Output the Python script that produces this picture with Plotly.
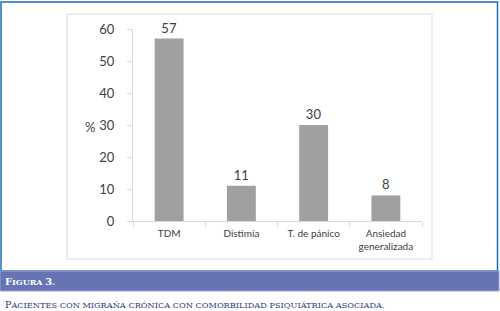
import plotly.graph_objects as go

categories = ["TDM", "Distimia", "T. de pánico", "Ansiedad<br>generalizada"]
values = [57, 11, 30, 8]
y_ticks = [0, 10, 20, 30, 40, 50, 60]
caption_title = "Figura 3."
caption_text = "Pacientes con migraña crónica con comorbilidad psiquiátrica asociada."

W, H = 500, 311
L, R, T, B = 133, 422, 29, 221  # plot area in pixels

def px(x):
    return (x - L) / (R - L)

def py(y):
    return (B - y) / (B - T)

def small_caps(s, big, small):
    out = []
    for ch in s:
        if ch.isupper() or ch.isdigit():
            out.append(f'<span style="font-size:{big}px">{ch}</span>')
        else:
            out.append(f'<span style="font-size:{small}px">{ch.upper()}</span>')
    return "".join(out)

fig = go.Figure()
fig.add_trace(go.Bar(
    x=categories, y=values,
    marker=dict(color="#a0a0a0", line=dict(width=0)),
    text=[str(v) for v in values], textposition="outside",
    textfont=dict(family="Lato", size=13, color="#404040"),
    cliponaxis=False, width=0.4,
))

fig.update_layout(
    width=W, height=H,
    margin=dict(l=L, r=W - R, t=T, b=H - B, pad=0),
    paper_bgcolor="white", plot_bgcolor="white",
    showlegend=False,
    xaxis=dict(
        showline=True, linecolor="#d9d9d9", linewidth=1,
        ticks="outside", tickson="boundaries", ticklen=5, tickcolor="#d9d9d9",
        tickfont=dict(family="Lato", size=10, color="#404040"),
        showgrid=False, fixedrange=True, ticklabelstandoff=3,
    ),
    yaxis=dict(
        range=[0, 60], tickvals=y_ticks,
        showline=True, linecolor="#d9d9d9", linewidth=1,
        ticks="outside", ticklen=5, tickcolor="#d9d9d9",
        tickfont=dict(family="Lato", size=13, color="#404040"),
        showgrid=False, zeroline=False, ticklabelstandoff=10, fixedrange=True,
    ),
    shapes=[
        # chart frame
        dict(type="rect", xref="paper", yref="paper",
             x0=px(67), x1=px(432), y0=py(259), y1=py(14),
             line=dict(color="#d9d9d9", width=1), layer="below"),
        # outer blue border
        dict(type="rect", xref="paper", yref="paper",
             x0=px(1), x1=px(497.5), y0=py(271), y1=py(2),
             line=dict(color="#1c6cbc", width=1.5), layer="below"),
        # caption band
        dict(type="rect", xref="paper", yref="paper",
             x0=px(0), x1=px(499), y0=py(291), y1=py(271),
             fillcolor="#6674b4", line=dict(color="#9aa2d2", width=1), layer="below"),
    ],
    annotations=[
        dict(text="%", xref="paper", yref="paper", x=px(90), y=py(127),
             xanchor="center", yanchor="middle",
             showarrow=False, font=dict(family="Lato", size=13, color="#404040")),
        dict(text="<b>" + small_caps(caption_title, 10, 8) + "</b>",
             xref="paper", yref="paper", x=px(3), y=py(281),
             xanchor="left", yanchor="middle", showarrow=False,
             font=dict(family="DejaVu Serif", size=8, color="white")),
        dict(text=small_caps(caption_text, 9.5, 8.2),
             xref="paper", yref="paper", x=px(3), y=py(304),
             xanchor="left", yanchor="middle", showarrow=False,
             font=dict(family="DejaVu Serif", size=8.2, color="#2b3a7e")),
    ],
)

fig.write_html("out.html",
               config={"displayModeBar": False},
               post_script="document.body.style.margin='0';document.body.style.overflow='hidden';")
